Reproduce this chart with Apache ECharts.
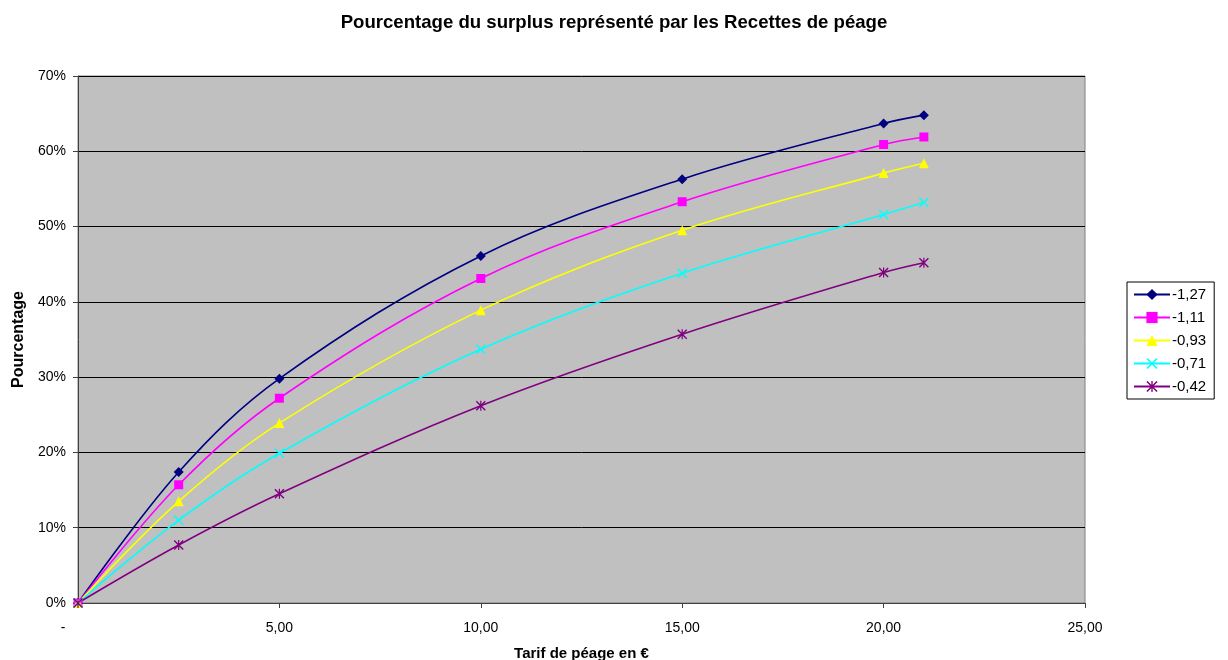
<!DOCTYPE html>
<html>
<head>
<meta charset="utf-8">
<script src="https://cdn.jsdelivr.net/npm/echarts@6/dist/echarts.min.js"></script>
<style>
  html, body { margin: 0; padding: 0; background: #ffffff; }
  #chart { width: 1228px; height: 660px; }
</style>
</head>
<body>
<div id="chart"></div>
<script>
// Toll price (€) for each computed point
const tarifs = [0, 2.5, 5, 10, 15, 20, 21];

// Share of the surplus taken by toll revenue (%), one series per elasticity
const serie127 = [0, 17.4, 29.8, 46.1, 56.3, 63.7, 64.8];
const serie111 = [0, 15.7, 27.2, 43.1, 53.3, 60.9, 61.9];
const serie093 = [0, 13.5, 23.9, 38.9, 49.5, 57.1, 58.4];
const serie071 = [0, 11.0, 19.9, 33.7, 43.8, 51.6, 53.2];
const serie042 = [0, 7.7, 14.5, 26.2, 35.7, 43.9, 45.2];

const seriesNames = ['-1,27', '-1,11', '-0,93', '-0,71', '-0,42'];
const yTicks = [0, 10, 20, 30, 40, 50, 60, 70];

// Marker shapes drawn as filled outlines
const crossPath = 'path://M0,1 L1,0 L10,9 L9,10 Z M9,0 L10,1 L1,10 L0,9 Z';
const starPath = 'path://M0,1 L1,0 L10,9 L9,10 Z M9,0 L10,1 L1,10 L0,9 Z M4.4,0 L5.6,0 L5.6,10 L4.4,10 Z';

function pairs(values) {
  return tarifs.map((x, i) => [x, values[i]]);
}

function lineSeries(name, values, color, symbol, size) {
  return {
    name: name,
    type: 'line',
    data: pairs(values),
    smooth: 0.35,
    symbol: symbol,
    symbolSize: size,
    showAllSymbol: true,
    lineStyle: { color: color, width: 1.6 },
    itemStyle: { color: color, borderColor: color, borderWidth: 0 },
    emphasis: { disabled: true }
  };
}

const chart = echarts.init(document.getElementById('chart'), null, { renderer: 'canvas' });

chart.setOption({
  animation: false,
  backgroundColor: '#ffffff',
  textStyle: { fontFamily: 'Liberation Sans, Arial, sans-serif' },
  title: {
    text: 'Pourcentage du surplus représenté par les Recettes de péage',
    left: 'center',
    top: 8,
    textStyle: { fontSize: 18.6, fontWeight: 'bold', color: '#000' }
  },
  grid: {
    left: 78,
    right: 143,
    top: 76,
    bottom: 57,
    containLabel: false,
    outerBoundsMode: 'none',
    show: true,
    backgroundColor: '#C0C0C0',
    borderColor: '#808080',
    borderWidth: 1
  },
  legend: {
    orient: 'vertical',
    left: 1127,
    top: 282,
    padding: [5, 8, 5, 6],
    itemGap: 8,
    itemWidth: 36,
    itemHeight: 14,
    borderColor: '#000',
    borderWidth: 1,
    backgroundColor: '#ffffff',
    textStyle: { fontSize: 15, color: '#000', padding: [0, 0, 0, -3] },
    data: seriesNames
  },
  xAxis: {
    type: 'value',
    min: 0,
    max: 25,
    interval: 5,
    name: 'Tarif de péage en €',
    nameLocation: 'middle',
    nameGap: 43,
    nameTextStyle: { fontSize: 15, fontWeight: 'bold', color: '#000' },
    axisLine: { show: true, onZero: false, lineStyle: { color: '#404040', width: 1 } },
    axisTick: { show: true, length: 5, lineStyle: { color: '#404040' } },
    splitLine: { show: false },
    axisLabel: {
      margin: 18,
      fontSize: 14,
      color: '#000',
      formatter: function (v) {
        if (v === 0) return '{z|-}';
        return v.toFixed(2).replace('.', ',');
      },
      rich: { z: { padding: [0, 30, 0, 0], fontSize: 14, color: '#000' } }
    }
  },
  yAxis: {
    type: 'value',
    min: yTicks[0],
    max: yTicks[yTicks.length - 1],
    interval: 10,
    name: 'Pourcentage',
    nameLocation: 'middle',
    nameGap: 50,
    nameTextStyle: { fontSize: 16, fontWeight: 'bold', color: '#000' },
    axisLine: { show: true, lineStyle: { color: '#404040', width: 1 } },
    axisTick: { show: true, length: 5, lineStyle: { color: '#404040' } },
    splitLine: { show: true, lineStyle: { color: '#000', width: 1 } },
    axisLabel: {
      margin: 12,
      fontSize: 14,
      color: '#000',
      formatter: '{value}%'
    }
  },
  series: [
    lineSeries(seriesNames[0], serie127, '#000080', 'diamond', 10),
    lineSeries(seriesNames[1], serie111, '#FF00FF', 'rect', 9),
    lineSeries(seriesNames[2], serie093, '#FFFF00', 'triangle', 10),
    lineSeries(seriesNames[3], serie071, '#00FFFF', crossPath, 10),
    lineSeries(seriesNames[4], serie042, '#800080', starPath, 10)
  ]
});
</script>
</body>
</html>
